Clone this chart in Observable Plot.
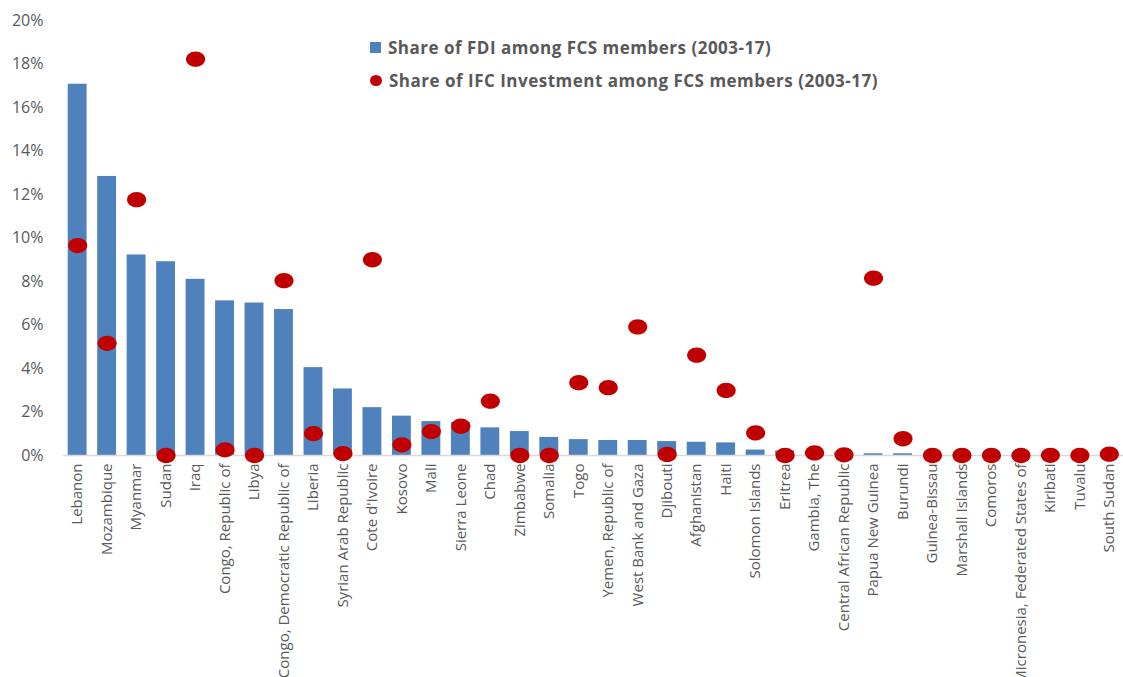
<!DOCTYPE html>
<html>
<head>
<meta charset="utf-8">
<script src="https://cdn.jsdelivr.net/npm/d3@7"></script>
<script src="https://cdn.jsdelivr.net/npm/@observablehq/plot@0.6"></script>
<style>
  html, body { margin: 0; padding: 0; background: #fff; }
  #wrap { position: relative; width: 1123px; height: 677px; overflow: hidden; font-family: "Open Sans", "Noto Sans", sans-serif; }
  #legend { position: absolute; left: 370px; top: 35px; font-weight: bold; font-size: 17px; color: #595959; }
  .item { display: flex; align-items: center; height: 24px; margin-bottom: 9px; white-space: nowrap; letter-spacing: 0.5px; }
  .sw { display: inline-block; margin-right: 7px; }
  .sq { width: 11px; height: 11px; background: #4F81BD; }
  .ci { width: 12px; height: 11px; border-radius: 50%; background: #C00000; }
</style>
</head>
<body>
<div id="wrap">
  <div id="chart"></div>
  <div id="legend">
    <div class="item"><span class="sw sq"></span>Share of FDI among FCS members (2003-17)</div>
    <div class="item"><span class="sw ci"></span>Share of IFC Investment among FCS members (2003-17)</div>
  </div>
</div>
<script>
const countries = [
  "Lebanon", "Mozambique", "Myanmar", "Sudan", "Iraq", "Congo, Republic of", "Libya",
  "Congo, Democratic Republic of", "Liberia", "Syrian Arab Republic", "Cote d'Ivoire", "Kosovo",
  "Mali", "Sierra Leone", "Chad", "Zimbabwe", "Somalia", "Togo", "Yemen, Republic of",
  "West Bank and Gaza", "Djibouti", "Afghanistan", "Haiti", "Solomon Islands", "Eritrea",
  "Gambia, The", "Central African Republic", "Papua New Guinea", "Burundi", "Guinea-Bissau",
  "Marshall Islands", "Comoros", "Micronesia, Federated States of", "Kiribati", "Tuvalu", "South Sudan"
];
const fdiShare = [
  17.07, 12.83, 9.22, 8.91, 8.10, 7.11, 7.01,
  6.71, 4.04, 3.06, 2.20, 1.81,
  1.56, 1.52, 1.27, 1.10, 0.83, 0.73, 0.69,
  0.69, 0.64, 0.61, 0.58, 0.25, 0.21,
  0.18, 0.12, 0.08, 0.08, 0.03,
  0.01, 0.01, 0.01, 0.01, 0.0, 0.0
];
const ifcShare = [
  9.65, 5.16, 11.76, 0.0, 18.22, 0.26, 0.0,
  8.04, 1.01, 0.09, 9.00, 0.49,
  1.10, 1.35, 2.50, 0.0, 0.0, 3.35, 3.12,
  5.91, 0.05, 4.61, 2.99, 1.04, 0.0,
  0.12, 0.03, 8.15, 0.77, 0.0,
  0.0, 0.0, 0.0, 0.01, 0.0, 0.06
];
const yTicks = [0, 2, 4, 6, 8, 10, 12, 14, 16, 18, 20];

const data = countries.map((c, i) => ({country: c, fdi: fdiShare[i], ifc: ifcShare[i]}));

const ellipse = {
  draw(ctx, size) {
    const r = Math.sqrt(size / Math.PI);
    const rx = r * 1.15, ry = r * 0.92, k = 0.5523;
    ctx.moveTo(rx, 0);
    ctx.bezierCurveTo(rx, ry * k, rx * k, ry, 0, ry);
    ctx.bezierCurveTo(-rx * k, ry, -rx, ry * k, -rx, 0);
    ctx.bezierCurveTo(-rx, -ry * k, -rx * k, -ry, 0, -ry);
    ctx.bezierCurveTo(rx * k, -ry, rx, -ry * k, rx, 0);
    ctx.closePath();
  }
};

const chart = Plot.plot({
  width: 1123,
  height: 677,
  marginLeft: 63,
  marginRight: 0,
  marginTop: 20,
  marginBottom: 222,
  style: {fontFamily: "'Open Sans', 'Noto Sans', sans-serif", color: "#595959", background: "#fff"},
  x: {domain: countries, paddingInner: 0.36, paddingOuter: 0.16, round: false, label: null, axis: null},
  y: {domain: [0, 20], label: null, axis: null},
  marks: [
    Plot.axisY(yTicks, {tickSize: 0, tickPadding: 20, tickFormat: d => d + "%", fontSize: 16, fill: "#595959", label: null}),
    Plot.axisX({tickSize: 0, tickRotate: -90, tickPadding: 8, fontSize: 15, fill: "#595959", label: null}),
    Plot.barY(data, {x: "country", y: "fdi", fill: "#4F81BD"}),
    Plot.ruleY([0], {stroke: "#D9D9D9", strokeWidth: 1.5}),
    Plot.dot(data, {x: "country", y: "ifc", r: 8.3, symbol: ellipse, fill: "#C00000", stroke: "none"})
  ]
});
document.getElementById("chart").appendChild(chart);
</script>
</body>
</html>
